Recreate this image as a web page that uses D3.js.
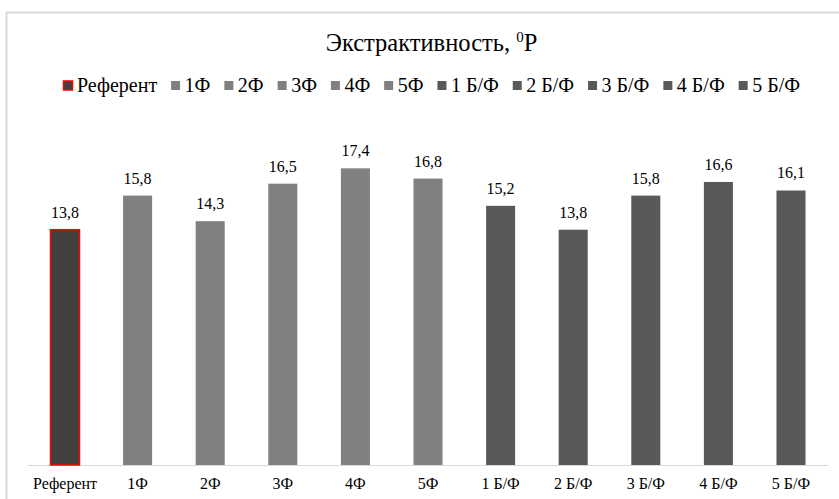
<!DOCTYPE html>
<html>
<head>
<meta charset="utf-8">
<script src="https://cdn.jsdelivr.net/npm/d3@7/dist/d3.min.js"></script>
<style>
  html, body { margin: 0; padding: 0; background: #fff; }
  svg { display: block; }
</style>
</head>
<body>
<svg id="chart" width="839" height="499"></svg>
<script>
// Extractivity by sample, °P
const categories = ["Референт", "1Ф", "2Ф", "3Ф", "4Ф", "5Ф", "1 Б/Ф", "2 Б/Ф", "3 Б/Ф", "4 Б/Ф", "5 Б/Ф"];
const values = [13.8, 15.8, 14.3, 16.5, 17.4, 16.8, 15.2, 13.8, 15.8, 16.6, 16.1];
const groups = ["ref", "f", "f", "f", "f", "f", "bf", "bf", "bf", "bf", "bf"];
const labels = ["13,8", "15,8", "14,3", "16,5", "17,4", "16,8", "15,2", "13,8", "15,8", "16,6", "16,1"];
const yDomain = [0, 20];

const FONT = "'Liberation Serif', Tinos, 'Times New Roman', 'DejaVu Serif', serif";
const fillFor = { ref: "#404040", f: "#808080", bf: "#595959" };
const strokeFor = { ref: "#ff0000", f: "none", bf: "none" };

const svg = d3.select("#chart")
  .attr("font-family", FONT);

// outer chart frame
svg.append("rect")
  .attr("x", 6.5).attr("y", 12.5)
  .attr("width", 900).attr("height", 600)
  .attr("fill", "none")
  .attr("stroke", "#d9d9d9")
  .attr("stroke-width", 2);

// title
const title = svg.append("text")
  .attr("x", 431.5).attr("y", 51)
  .attr("text-anchor", "middle")
  .attr("font-family", FONT)
  .attr("font-size", 24.5)
  .attr("fill", "#000");
title.append("tspan").text("Экстрактивность, ");
title.append("tspan").attr("dy", -9).attr("font-size", 15).text("0");
title.append("tspan").attr("dy", 9).text("P");

const x = d3.scaleBand()
  .domain(categories)
  .range([28.7, 827.3])
  .paddingInner(0.6)
  .paddingOuter(0.3);

const y = d3.scaleLinear().domain(yDomain).range([465, 124]);

// baseline
svg.append("line")
  .attr("x1", 28).attr("x2", 828)
  .attr("y1", y(0) + 0.5).attr("y2", y(0) + 0.5)
  .attr("stroke", "#d9d9d9").attr("stroke-width", 1);

// bars
svg.append("g").selectAll("rect")
  .data(categories)
  .join("rect")
  .attr("x", (d) => x(d))
  .attr("y", (d, i) => y(values[i]))
  .attr("width", x.bandwidth())
  .attr("height", (d, i) => y(0) - y(values[i]))
  .attr("fill", (d, i) => fillFor[groups[i]])
  .attr("stroke", (d, i) => strokeFor[groups[i]])
  .attr("stroke-width", 1.5);

// value labels
svg.append("g").selectAll("text")
  .data(categories)
  .join("text")
  .attr("x", (d) => x(d) + x.bandwidth() / 2)
  .attr("y", (d, i) => y(values[i]) - 12)
  .attr("text-anchor", "middle")
  .attr("font-family", FONT)
  .attr("font-size", 16)
  .attr("fill", "#000")
  .text((d, i) => labels[i]);

// category axis
const xAxis = svg.append("g")
  .attr("transform", `translate(0,${y(0)})`)
  .call(d3.axisBottom(x).tickSize(0).tickPadding(13))
  .attr("font-family", FONT)
  .attr("font-size", 16);
xAxis.select(".domain").remove();
xAxis.selectAll("text").attr("fill", "#000");

// legend
const legend = svg.append("g");
const items = legend.selectAll("g")
  .data(categories)
  .join("g");
items.append("rect")
  .attr("x", 0.5)
  .attr("width", 9).attr("height", 9)
  .attr("y", -11)
  .attr("fill", (d, i) => fillFor[groups[i]])
  .attr("stroke", (d, i) => strokeFor[groups[i]])
  .attr("stroke-width", 1.5);
items.append("text")
  .attr("x", 14)
  .attr("y", 0)
  .attr("font-family", FONT)
  .attr("font-size", 20)
  .attr("fill", "#000")
  .text((d) => d);

// spread the entries evenly across the legend row
const legendLeft = 63, legendRight = 800;
const widths = [];
items.each(function () {
  widths.push(14 + this.querySelector("text").getComputedTextLength());
});
const gap = (legendRight - legendLeft - d3.sum(widths)) / (widths.length - 1);
let cursor = legendLeft;
const positions = widths.map((w) => { const p = cursor; cursor += w + gap; return p; });
items.attr("transform", (d, i) => `translate(${positions[i]},92)`);
</script>
</body>
</html>
